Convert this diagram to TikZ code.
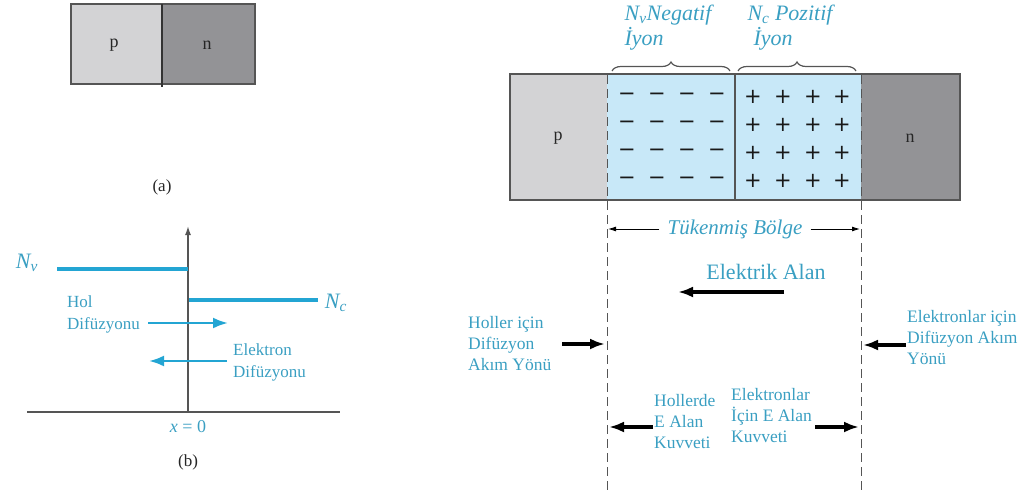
\documentclass[tikz,border=0pt]{standalone}
\usepackage{fontspec}
\setmainfont{Liberation Serif}
\newfontfamily\signfont{DejaVu Sans}
\usetikzlibrary{positioning,arrows.meta,decorations.pathreplacing}

\definecolor{lblue}{HTML}{3A9FC2}
\definecolor{lineblue}{HTML}{23A5D3}
\definecolor{pgray}{HTML}{D3D3D5}
\definecolor{ngray}{HTML}{939396}
\definecolor{depl}{HTML}{C8E8F8}
\definecolor{edge}{HTML}{555555}

\tikzset{
  lbl/.style={text=lblue, font=\fontsize{17.5}{21}\selectfont, align=left, inner sep=0pt},
  blbl/.style={text=lblue, font=\fontsize{17}{22}\selectfont, align=left, inner sep=0pt},
  itl/.style={text=lblue, font=\fontsize{22}{25}\selectfont\itshape, align=left, inner sep=0pt},
  sym/.style={font=\fontsize{18}{18}\selectfont, text=black!85, inner sep=0pt},
  chg/.style={font=\signfont\fontsize{21}{21}\selectfont, text=black!90, inner sep=0pt},
  bigarr/.style={line width=3.3pt, -{Latex[length=15pt,width=11pt]}},
  thinarr/.style={line width=0.9pt, -{Latex[length=8pt,width=5pt]}},
  bluearr/.style={lineblue, line width=2.5pt, -{Latex[length=15pt,width=11pt]}},
  lvl/.style={lineblue, line width=3.8pt},
  axis/.style={edge, line width=1.5pt},
  dline/.style={edge, line width=1pt, dash pattern=on 9pt off 5pt},
  brc/.style={edge, line width=1.2pt, decorate, decoration={brace, amplitude=9pt}}
}

\begin{document}
\begin{tikzpicture}[x=1pt, y=-1pt]
  \useasboundingbox (0,0) rectangle (1026,495);

  % (a)
  \draw [axis, fill=pgray] (71,4) rectangle (162,84);
  \draw [axis, fill=ngray] (162,4) rectangle (255,84);
  \draw [line width=2pt, black!80] (162,4) -- (162,87);
  \node (pa) [sym] at (114,45) {p};
  \node (na) [sym] at (207,45) {n};
  \node (capa) [sym, font=\fontsize{17}{17}\selectfont] at (162,187) {(a)};

  % (b)
  \coordinate (org) at (188,412);
  \coordinate (ytop) at (188,226);
  \coordinate (xl) at (27,412);
  \coordinate (xr) at (340,412);
  \draw [axis, -{Latex[length=9pt,width=6pt]}] (org) -- (ytop);
  \draw [axis] (xl) -- (xr);
  \coordinate (nv1) at (57,269);
  \coordinate (nv2) at (188,269);
  \coordinate (nc1) at (189,300);
  \coordinate (nc2) at (318,300);
  \draw [lvl] (nv1) -- (nv2);
  \draw [lvl] (nc1) -- (nc2);
  \node (nv) [itl] at (27,263) {N\textsubscript{v}};
  \node (nc) [itl] at (336,303) {N\textsubscript{c}};
  \node (hol) [blbl, anchor=west] at (67,314) {Hol\\Difüzyonu};
  \node (eld) [blbl, anchor=west] at (233,362) {Elektron\\Difüzyonu};
  \coordinate (h1) at (148,323);
  \coordinate (h2) at (228,323);
  \coordinate (e1) at (227,361);
  \coordinate (e2) at (149,361);
  \draw [bluearr] (h1) -- (h2);
  \draw [bluearr] (e1) -- (e2);
  \node (x0) [text=lblue, font=\fontsize{18}{18}\selectfont] at (188,427) {\textit{x} = 0};
  \node (capb) [sym, font=\fontsize{17}{17}\selectfont] at (188,462) {(b)};

  % junction
  \fill [pgray] (510,74) rectangle (607,200);
  \fill [depl] (607,74) rectangle (861,200);
  \fill [ngray] (861,74) rectangle (960,200);
  \draw [axis, line width=1.3pt] (510,74) rectangle (960,200);
  \draw [axis, line width=1.3pt] (735,74) -- (735,200);
  \draw [dline] (607,75) -- (607,490);
  \draw [dline] (861,75) -- (861,490);
  \node (pb) [sym] at (558,138) {p};
  \node (nb) [sym] at (910,138) {n};

  \foreach \r in {97,125,153,181} {
    \foreach \c in {627,657,687,717}
      \node [chg] at (\c,\r) {−};
    \foreach \c in {753,783,813,842}
      \node [chg] at (\c,\r) {+};
  }

  \draw [brc] (612,71) -- (730,71);
  \draw [brc] (738,71) -- (856,71);
  \node (neg) [itl] at (668,28) {N\textsubscript{v}Negatif\\İyon};
  \node (poz) [itl] at (790,28) {N\textsubscript{c} Pozitif\\\hspace{6pt}İyon};

  \node (tb) [itl, font=\fontsize{21}{21}\selectfont\itshape, inner sep=8pt] at (735,229) {Tükenmiş Bölge};
  \coordinate (tbl) at (608,229);
  \coordinate (tbr) at (860,229);
  \draw [thinarr] (tb.west) -- (tbl);
  \draw [thinarr] (tb.east) -- (tbr);

  \node (ea) [lbl, font=\fontsize{22}{22}\selectfont] at (766,272) {Elektrik Alan};
  \coordinate (ea1) at (784,292);
  \coordinate (ea2) at (678,292);
  \draw [bigarr] (ea1) -- (ea2);

  \node (hd) [lbl, anchor=west] at (468,344) {Holler için\\Difüzyon\\Akım Yönü};
  \coordinate (hd1) at (562,344);
  \coordinate (hd2) at (605,344);
  \draw [bigarr] (hd1) -- (hd2);

  \node (ed) [lbl, anchor=west] at (907,338) {Elektronlar için\\Difüzyon Akım\\Yönü};
  \coordinate (ed1) at (906,345);
  \coordinate (ed2) at (863,345);
  \draw [bigarr] (ed1) -- (ed2);

  \node (hk) [lbl, anchor=west] at (654,422) {Hollerde\\E Alan\\Kuvveti};
  \coordinate (hk1) at (653,427);
  \coordinate (hk2) at (609,427);
  \draw [bigarr] (hk1) -- (hk2);

  \node (ek) [lbl, anchor=west] at (731,416) {Elektronlar\\İçin E Alan\\Kuvveti};
  \coordinate (ek1) at (815,427);
  \coordinate (ek2) at (859,427);
  \draw [bigarr] (ek1) -- (ek2);

\end{tikzpicture}
\end{document}
